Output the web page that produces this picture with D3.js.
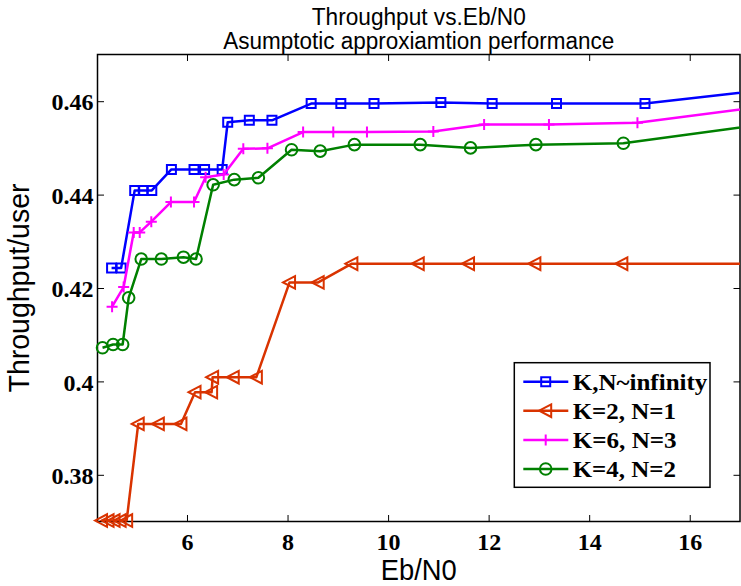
<!DOCTYPE html>
<html><head><meta charset="utf-8">
<script src="https://cdn.jsdelivr.net/npm/d3@7/dist/d3.min.js"></script>
<style>body{margin:0;background:#fff}svg{display:block}
.serifb{font-family:"Liberation Serif","Tinos","Times New Roman","DejaVu Serif",serif;font-weight:bold}
.sansn{font-family:"Liberation Sans Narrow","Liberation Sans",Arial,sans-serif}
</style>
</head><body>
<script>
const seriesNames = ["K,N~infinity", "K=2, N=1", "K=6, N=3", "K=4, N=2"];
const seriesColors = ["#0000ff", "#d93300", "#ff00ff", "#008000"];
const seriesMarkers = ["square", "triangleLeft", "plus", "circle"];

const blueX = [4.50,4.69,4.96,5.13,5.30,5.69,6.14,6.35,6.70,6.81,7.24,7.69,8.47,9.06,9.72,11.05,12.07,13.35,15.11,17.5];
const blueY = [0.4243,0.4243,0.4409,0.4409,0.4409,0.4454,0.4454,0.4454,0.4454,0.4555,0.4559,0.4559,0.4595,0.4595,0.4595,0.4597,0.4595,0.4595,0.4595,0.4624];
const redX = [4.30,4.43,4.55,4.67,4.80,5.03,5.43,5.88,6.16,6.49,6.51,6.92,7.38,8.04,8.61,9.28,10.60,11.60,12.92,14.65,17.5];
const redY = [0.3702,0.3702,0.3702,0.3702,0.3702,0.3909,0.3909,0.3909,0.3977,0.3977,0.4009,0.4009,0.4009,0.4212,0.4212,0.4252,0.4252,0.4252,0.4252,0.4252,0.4252];
const magX = [4.51,4.74,4.94,5.06,5.29,5.68,6.14,6.37,6.73,7.12,7.60,8.31,8.91,9.58,10.90,11.91,13.20,14.96,17.5];
const magY = [0.4160,0.4202,0.4319,0.4319,0.4342,0.4384,0.4384,0.4437,0.4443,0.4498,0.4499,0.4534,0.4534,0.4534,0.4535,0.4550,0.4550,0.4554,0.4589];
const greenX = [4.32,4.53,4.72,4.84,5.09,5.49,5.93,6.18,6.52,6.94,7.42,8.08,8.65,9.33,10.64,11.64,12.94,14.68,17.5];
const greenY = [0.4072,0.4079,0.4079,0.4179,0.4262,0.4262,0.4266,0.4262,0.4421,0.4432,0.4436,0.4496,0.4493,0.4507,0.4507,0.4500,0.4507,0.4510,0.4551];

const xTicks = [6, 8, 10, 12, 14, 16];
const yTicks = [0.38, 0.40, 0.42, 0.44, 0.46];
const xDomain = [4.22, 17];
const yDomain = [0.37, 0.47];
const titleLines = ["Throughput vs.Eb/N0", "Asumptotic approxiamtion performance"];
const xLabel = "Eb/N0";
const yLabel = "Throughput/user";

const W = 741, H = 586;
const L = 97.5, R = 740, T = 54.5, B = 521.5;

const svg = d3.select("body").append("svg").attr("width", W).attr("height", H);
const x = d3.scaleLinear().domain(xDomain).range([L, R]);
const y = d3.scaleLinear().domain(yDomain).range([B, T]);

svg.append("defs").append("clipPath").attr("id", "clip")
  .append("rect").attr("x", L).attr("y", T).attr("width", R - L).attr("height", B - T);

// axes with inside ticks
const tickLen = 6.5;
const axB = svg.append("g").attr("transform", `translate(0,${B})`)
  .call(d3.axisBottom(x).tickValues(xTicks).tickSizeInner(-tickLen).tickSizeOuter(0).tickPadding(14).tickFormat(d3.format("d")));
const axT = svg.append("g").attr("transform", `translate(0,${T})`)
  .call(d3.axisTop(x).tickValues(xTicks).tickSizeInner(-tickLen).tickSizeOuter(0).tickFormat(""));
const axL = svg.append("g").attr("transform", `translate(${L},0)`)
  .call(d3.axisLeft(y).tickValues(yTicks).tickSizeInner(-tickLen).tickSizeOuter(0).tickPadding(4).tickFormat(d => String(+d.toFixed(2))));
const axR = svg.append("g").attr("transform", `translate(${R},0)`)
  .call(d3.axisRight(y).tickValues(yTicks).tickSizeInner(-tickLen).tickSizeOuter(0).tickFormat(""));
[axB, axT, axL, axR].forEach(a => {
  a.attr("font-family", null).attr("font-size", null);
  a.select(".domain").remove();
  a.selectAll("line").attr("stroke", "#000").attr("stroke-width", 1);
  a.selectAll("text").attr("class", "serifb").style("font-size", "24px").attr("fill", "#000");
});
axB.selectAll("text").attr("dy", null).attr("y", 28.5);
axL.selectAll("text").attr("dy", "0.36em");

svg.append("rect").attr("x", L).attr("y", T).attr("width", R - L).attr("height", B - T)
  .attr("fill", "none").attr("stroke", "#000").attr("stroke-width", 1.5);

function markerPath(type) {
  if (type === "square") return "M-4.5,-4.5H4.5V4.5H-4.5Z";
  if (type === "triangleLeft") return "M-6.5,0L5.5,-6.3L5.5,6.3Z";
  if (type === "plus") return "M-5.5,0H5.5M0,-5.5V5.5";
  if (type === "circle") return "M5.8,0A5.8,5.8 0 1,1 -5.8,0A5.8,5.8 0 1,1 5.8,0Z";
}

const series = [
  {xs: blueX, ys: blueY},
  {xs: redX, ys: redY},
  {xs: magX, ys: magY},
  {xs: greenX, ys: greenY}
];
const line = d3.line().x(d => x(d[0])).y(d => y(d[1]));

series.forEach((s, i) => {
  const pts = s.xs.map((v, j) => [v, s.ys[j]]);
  const g = svg.append("g");
  g.append("path").attr("d", line(pts)).attr("clip-path", "url(#clip)")
    .attr("fill", "none").attr("stroke", seriesColors[i]).attr("stroke-width", 2.5).attr("stroke-linejoin", "round");
  g.selectAll("path.m").data(pts.filter(p => p[0] <= xDomain[1])).enter().append("path").attr("class", "m")
    .attr("transform", p => `translate(${x(p[0])},${y(p[1])})`)
    .attr("d", markerPath(seriesMarkers[i]))
    .attr("fill", "none").attr("stroke", seriesColors[i]).attr("stroke-width", 2);
});

// legend
const lg = svg.append("g");
const lgX0 = 514.3, lgY0 = 362.7, lgW = 195.7, lgH = 124.6;
lg.append("rect").attr("x", lgX0).attr("y", lgY0).attr("width", lgW).attr("height", lgH)
  .attr("fill", "#fff").attr("stroke", "#000").attr("stroke-width", 1.5);
const rowY = [381.7, 410.7, 440, 469];
const legendTextLen = [134.7, 103.3, 104, 103.3];
seriesNames.forEach((nm, i) => {
  lg.append("line").attr("x1", 523.3).attr("x2", 568.3).attr("y1", rowY[i]).attr("y2", rowY[i])
    .attr("stroke", seriesColors[i]).attr("stroke-width", 2.5);
  lg.append("path").attr("transform", `translate(545.7,${rowY[i]})`).attr("d", markerPath(seriesMarkers[i]))
    .attr("fill", "none").attr("stroke", seriesColors[i]).attr("stroke-width", 2);
  lg.append("text").attr("class", "serifb").attr("x", 572.7).attr("y", rowY[i] + 7.8).text(nm)
    .style("font-size", "23px").attr("fill", "#000")
    .attr("textLength", legendTextLen[i]).attr("lengthAdjust", "spacingAndGlyphs");
});

// titles and labels
const cx = (L + R) / 2;
const tl = [[titleLines[0], 25, 214], [titleLines[1], 49, 391]];
tl.forEach(([t, yy, len]) => {
  svg.append("text").attr("class", "sansn").attr("x", cx).attr("y", yy).attr("text-anchor", "middle")
    .style("font-size", "23px").attr("fill", "#000")
    .attr("textLength", len).attr("lengthAdjust", "spacingAndGlyphs").text(t);
});
svg.append("text").attr("class", "sansn").attr("x", cx).attr("y", 580).attr("text-anchor", "middle")
  .style("font-size", "30px").attr("fill", "#000")
  .attr("textLength", 76).attr("lengthAdjust", "spacingAndGlyphs").text(xLabel);
svg.append("text").attr("class", "sansn").attr("transform", `translate(29,${(T + B) / 2}) rotate(-90)`).attr("text-anchor", "middle")
  .style("font-size", "30px").attr("fill", "#000")
  .attr("textLength", 209).attr("lengthAdjust", "spacingAndGlyphs").text(yLabel);
</script>
</body></html>
